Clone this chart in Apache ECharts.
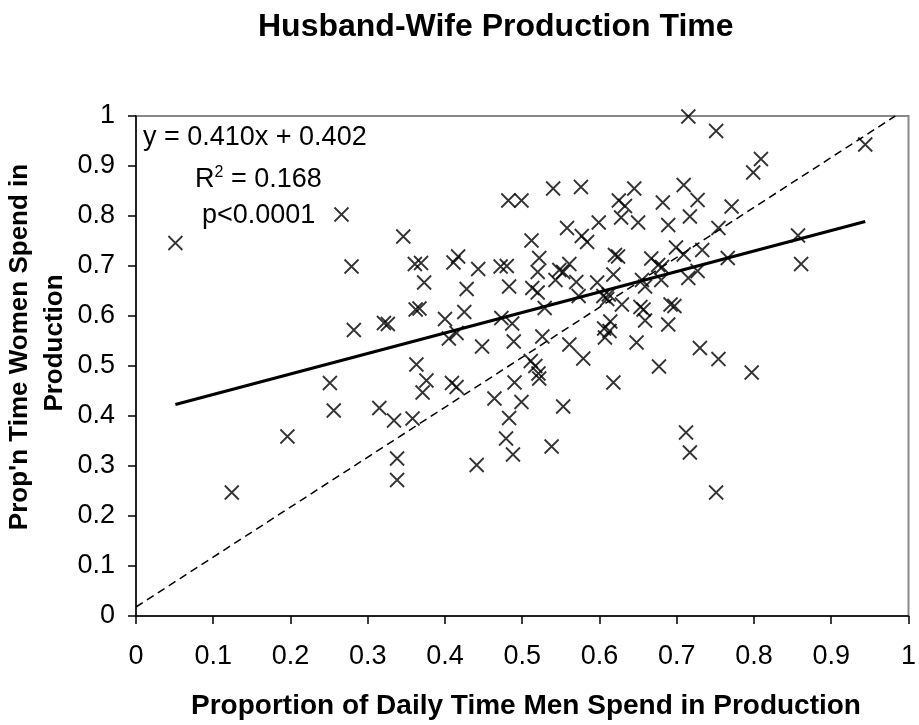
<!DOCTYPE html>
<html>
<head>
<meta charset="utf-8">
<script src="https://cdn.jsdelivr.net/npm/echarts@6/dist/echarts.min.js"></script>
<style>
html,body{margin:0;padding:0;background:#fff;}
#chart{width:919px;height:725px;}
</style>
</head>
<body>
<div id="chart"></div>
<script>
// Proportion of daily time men spend in production (x) and women (y)
var menShare = [
0.051,0.124,0.196,0.251,0.256,0.266,0.279,0.282,0.315,0.321,0.326,0.334,0.338,0.338,0.346,0.358,
0.361,0.369,0.362,0.367,0.363,0.373,0.376,0.371,0.400,0.405,0.415,0.409,0.415,0.411,0.417,0.425,
0.428,0.443,0.441,0.448,0.464,0.472,0.480,0.482,0.499,0.483,0.473,0.487,0.489,0.483,0.479,0.488,
0.490,0.499,0.512,0.522,0.520,0.513,0.520,0.540,0.576,0.561,0.548,0.553,0.543,0.558,0.577,0.584,
0.570,0.573,0.597,0.599,0.529,0.526,0.511,0.517,0.521,0.522,0.561,0.579,0.553,0.538,0.625,0.633,
0.645,0.628,0.650,0.682,0.689,0.618,0.620,0.624,0.605,0.610,0.612,0.629,0.655,0.659,0.680,0.667,
0.676,0.681,0.699,0.653,0.657,0.692,0.697,0.614,0.606,0.613,0.607,0.659,0.689,0.648,0.677,0.618,
0.715,0.751,0.709,0.727,0.717,0.771,0.754,0.709,0.733,0.766,0.715,0.727,0.730,0.754,0.797,0.712,
0.717,0.751,0.799,0.809,0.857,0.861,0.944
];
var womenShare = [
0.746,0.247,0.359,0.466,0.411,0.803,0.699,0.572,0.416,0.586,0.584,0.391,0.315,0.272,0.759,0.395,
0.704,0.706,0.613,0.615,0.503,0.667,0.471,0.447,0.594,0.555,0.566,0.466,0.458,0.707,0.719,0.608,
0.654,0.694,0.302,0.539,0.435,0.699,0.700,0.831,0.831,0.659,0.596,0.585,0.549,0.396,0.355,0.323,
0.467,0.428,0.751,0.716,0.688,0.656,0.647,0.855,0.858,0.704,0.692,0.688,0.672,0.776,0.760,0.748,
0.668,0.640,0.667,0.787,0.616,0.559,0.510,0.500,0.485,0.475,0.543,0.515,0.419,0.339,0.831,0.820,
0.855,0.797,0.787,0.827,0.782,0.683,0.722,0.719,0.640,0.634,0.643,0.623,0.672,0.659,0.672,0.715,
0.702,0.698,0.737,0.618,0.613,0.623,0.620,0.589,0.575,0.570,0.557,0.591,0.583,0.547,0.499,0.467,
0.999,0.970,0.862,0.832,0.799,0.819,0.776,0.723,0.732,0.716,0.676,0.690,0.536,0.514,0.487,0.367,
0.327,0.247,0.887,0.914,0.761,0.704,0.943
];
// Fitted trend line endpoints (y = 0.410x + 0.402)
var trendX = [0.051, 0.944];
var trendY = [0.423, 0.789];
// Dashed equality reference line endpoints
var diagX = [0.0, 0.983];
var diagY = [0.018, 1.0];

var titleText = 'Husband-Wife Production Time';
var xTitle = 'Proportion of Daily Time Men Spend in Production';
var yTitle1 = "Prop'n Time Women Spend in";
var yTitle2 = 'Production';
var eqText = 'y = 0.410x + 0.402';
var r2Parts = ['R', '2', ' = 0.168'];
var pText = 'p<0.0001';

function pairs(xs, ys){ var o=[]; for (var i=0;i<xs.length;i++) o.push([xs[i], ys[i]]); return o; }

var FONT = 'Liberation Sans, Arial, sans-serif';
var chart = echarts.init(document.getElementById('chart'), null, {renderer:'canvas'});
chart.setOption({
  animation: false,
  backgroundColor: '#fff',
  title: {
    text: titleText, left: 253, top: 6,
    textStyle: {fontFamily: FONT, fontSize: 32, fontWeight: 'bold', color: '#000'}
  },
  grid: {left: 136, right: 3, top: 116, bottom: 109, show: true, borderColor: '#888', borderWidth: 2, backgroundColor: '#fff'},
  xAxis: {
    type: 'value', min: 0, max: 1, interval: 0.1,
    axisLine: {show: true, onZero: false, lineStyle: {color: '#000', width: 1.5}},
    axisTick: {show: true, length: 8, lineStyle: {color: '#000', width: 1.5}},
    splitLine: {show: false},
    axisLabel: {margin: 27, fontFamily: FONT, fontSize: 27, color: '#000'}
  },
  yAxis: {
    type: 'value', min: 0, max: 1, interval: 0.1,
    axisLine: {show: true, onZero: false, lineStyle: {color: '#000', width: 1.5}},
    axisTick: {show: true, length: 8, lineStyle: {color: '#000', width: 1.5}},
    splitLine: {show: false},
    axisLabel: {margin: 21, fontFamily: FONT, fontSize: 27, color: '#000'}
  },
  graphic: [
    {type: 'text', x: 526, y: 706, style: {text: xTitle, font: 'bold 28px ' + FONT, fill: '#000', textAlign: 'center', textVerticalAlign: 'middle'}},
    {type: 'text', x: 20, y: 347, rotation: Math.PI/2, style: {text: yTitle1, font: 'bold 26px ' + FONT, fill: '#000', textAlign: 'center', textVerticalAlign: 'middle'}},
    {type: 'text', x: 55, y: 343, rotation: Math.PI/2, style: {text: yTitle2, font: 'bold 26px ' + FONT, fill: '#000', textAlign: 'center', textVerticalAlign: 'middle'}},
    {type: 'text', x: 143, y: 138, z: 10, style: {text: eqText, font: '27px ' + FONT, fill: '#000', textAlign: 'left', textVerticalAlign: 'middle'}},
    {type: 'text', x: 195, y: 180, z: 10, style: {
      text: '{a|' + r2Parts[0] + '}{s|' + r2Parts[1] + '}{a|' + r2Parts[2] + '}',
      textAlign: 'left', textVerticalAlign: 'middle',
      rich: {
        a: {fontFamily: FONT, fontSize: 27, fill: '#000', color: '#000', lineHeight: 30},
        s: {fontFamily: FONT, fontSize: 16, fill: '#000', color: '#000', verticalAlign: 'top', lineHeight: 30}
      }
    }},
    {type: 'text', x: 202, y: 216, z: 10, style: {text: pText, font: '27px ' + FONT, fill: '#000', textAlign: 'left', textVerticalAlign: 'middle'}}
  ],
  series: [
    {
      type: 'line', data: pairs(diagX, diagY), showSymbol: false, silent: true,
      lineStyle: {color: '#000', width: 1.5, type: [8, 5]}
    },
    {
      type: 'scatter', data: pairs(menShare, womenShare), silent: true,
      symbol: 'path://M0,0L10,10M10,0L0,10', symbolSize: 14,
      itemStyle: {color: 'rgba(0,0,0,0)', borderColor: '#000', borderWidth: 1.8}
    },
    {
      type: 'line', data: pairs(trendX, trendY), showSymbol: false, silent: true,
      lineStyle: {color: '#000', width: 3.2}
    }
  ]
});
</script>
</body>
</html>
